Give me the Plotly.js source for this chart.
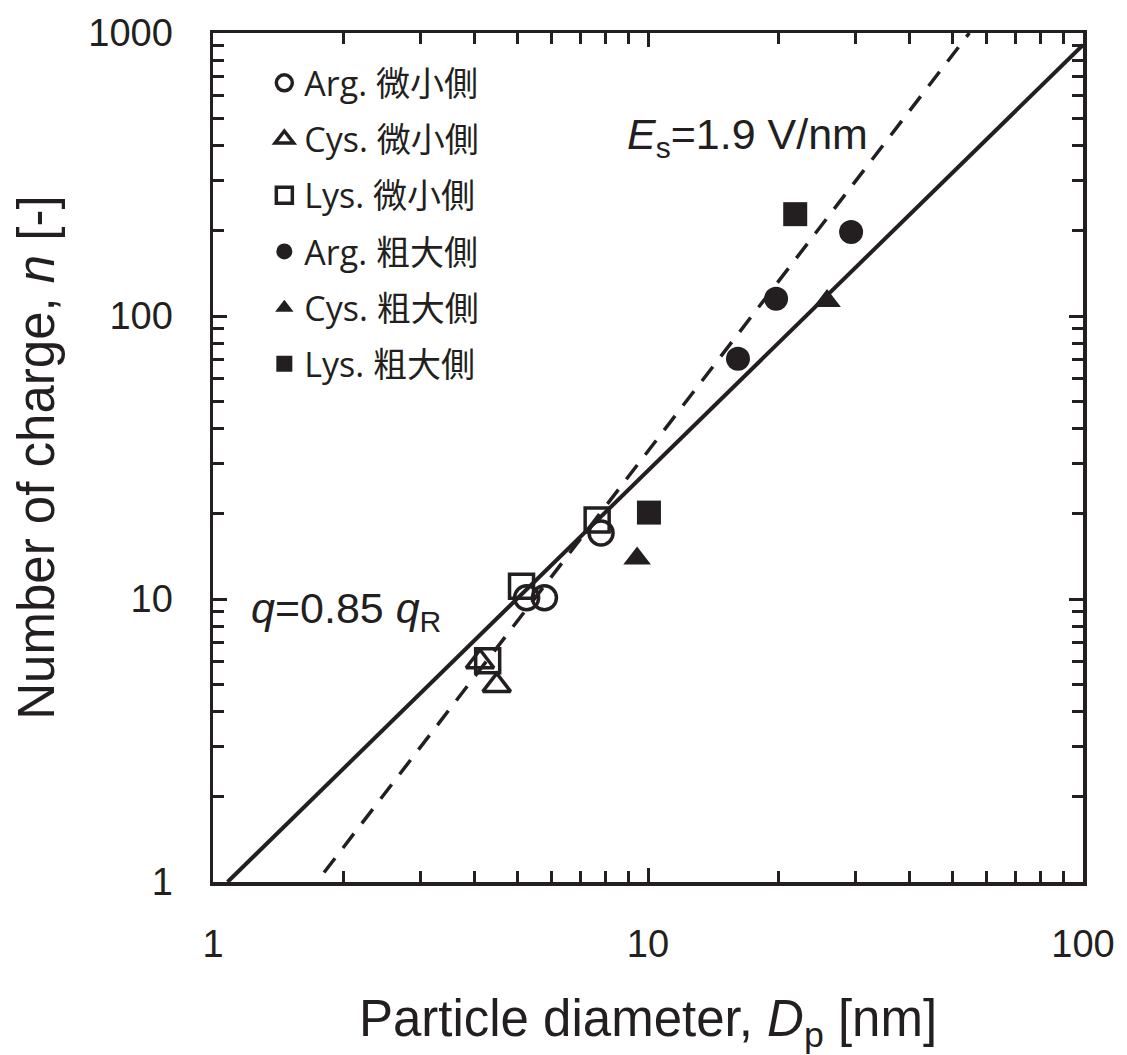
<!DOCTYPE html>
<html>
<head>
<meta charset="utf-8">
<script src="https://cdn.plot.ly/plotly-3.0.1.min.js"></script>
<style>html,body{margin:0;padding:0;background:#fff;}</style>
</head>
<body>
<div id="chart" style="width:1127px;height:1055px;"></div>
<script>
// ---- data ----
const argSmallX = [5.26, 5.78, 7.8];
const argSmallY = [10.1, 10.1, 17.1];
const cysSmallX = [4.11, 4.49];
const cysSmallY = [6.0, 4.95];
const lysSmallX = [4.28, 5.12, 7.64];
const lysSmallY = [6.05, 11.1, 19.0];
const argLargeX = [16.1, 19.7, 29.3];
const argLargeY = [70.6, 115, 198];
const cysLargeX = [9.44, 25.8];
const cysLargeY = [13.9, 113];
const lysLargeX = [10.05, 21.8];
const lysLargeY = [20.2, 229];
// reference lines (end points)
const rayleighX = [1.08, 100];
const rayleighY = [1, 907];
const fieldX = [1.8, 54.8];
const fieldY = [1.08, 1000];
// names / ticks
const seriesNames = ['Arg. 微小側', 'Cys. 微小側', 'Lys. 微小側', 'Arg. 粗大側', 'Cys. 粗大側', 'Lys. 粗大側'];
const xTickVals = [1, 10, 100];
const xTickText = ['1', '10', '100'];
const yTickVals = [1, 10, 100, 1000];
const yTickText = ['1', '10', '100', '1000'];

const INK = '#231f20';
const MS = 24;

function pts(x, y, name, symbol, group) {
  const open = symbol.indexOf('open') >= 0;
  return {
    type: 'scatter', mode: 'markers', x: x, y: y, name: name,
    legendgroup: group,
    marker: {symbol: symbol, size: MS, color: INK,
      line: {color: INK, width: open ? 3.5 : 0}},
    cliponaxis: false
  };
}

const traces = [
  pts(argSmallX, argSmallY, seriesNames[0], 'circle-open', 'g1'),
  pts(cysSmallX, cysSmallY, seriesNames[1], 'triangle-up-open', 'g2'),
  pts(lysSmallX, lysSmallY, seriesNames[2], 'square-open', 'g3'),
  pts(argLargeX, argLargeY, seriesNames[3], 'circle', 'g4'),
  pts(cysLargeX, cysLargeY, seriesNames[4], 'triangle-up', 'g5'),
  pts(lysLargeX, lysLargeY, seriesNames[5], 'square', 'g6'),
  {type: 'scatter', mode: 'lines', x: rayleighX, y: rayleighY, showlegend: false,
   line: {color: INK, width: 4}, hoverinfo: 'skip'},
  {type: 'scatter', mode: 'lines', x: fieldX, y: fieldY, showlegend: false,
   line: {color: INK, width: 3.5, dash: '18px,13px'}, hoverinfo: 'skip'}
];

const axisCommon = {
  type: 'log',
  showgrid: false, zeroline: false,
  showline: true, linecolor: INK, linewidth: 3.5,
  mirror: 'allticks',
  ticks: 'inside', ticklen: 14, tickwidth: 3, tickcolor: INK,
  tickfont: {family: 'Liberation Sans, Arial, sans-serif', size: 38, color: INK},
  minor: {ticks: 'inside', ticklen: 11, tickwidth: 3, tickcolor: INK, dtick: 'D1', showgrid: false}
};

const layout = {
  width: 1127, height: 1055,
  margin: {l: 213, r: 40, t: 31, b: 172, pad: 0},
  paper_bgcolor: '#fff', plot_bgcolor: '#fff',
  font: {family: 'Liberation Sans, Arial, sans-serif', color: INK},
  xaxis: Object.assign({}, axisCommon, {
    range: [0, 2],
    tickmode: 'array', tickvals: xTickVals, ticktext: xTickText,
    ticklabelstandoff: 26,
    title: {text: 'Particle diameter, <i>D</i><sub>p</sub> [nm]',
      font: {family: 'Liberation Sans, Arial, sans-serif', size: 51, color: INK}, standoff: 42},
    automargin: true
  }),
  yaxis: Object.assign({}, axisCommon, {
    range: [0, 3],
    tickmode: 'array', tickvals: yTickVals, ticktext: yTickText,
    ticklabelstandoff: 29,
    title: {text: 'Number of charge, <i>n</i> [-]',
      font: {family: 'Liberation Sans, Arial, sans-serif', size: 51, color: INK}, standoff: 18},
    automargin: true
  }),
  showlegend: true,
  legend: {
    x: 0.059, y: 0.975, xanchor: 'left', yanchor: 'top',
    bgcolor: 'rgba(0,0,0,0)', borderwidth: 0,
    traceorder: 'grouped', tracegroupgap: 9,
    font: {family: 'Open Sans, Noto Sans CJK JP, sans-serif', size: 34, color: INK},
    itemsizing: 'trace'
  },
  annotations: [
    {xref: 'paper', yref: 'paper', x: 0.4737, y: 0.878, xanchor: 'left', yanchor: 'middle',
     text: '<i>E</i><sub>s</sub>=1.9 V/nm', showarrow: false,
     font: {family: 'Liberation Sans, Arial, sans-serif', size: 43, color: INK}},
    {xref: 'paper', yref: 'paper', x: 0.041, y: 0.319, xanchor: 'left', yanchor: 'middle',
     text: '<i>q</i>=0.85 <i>q</i><sub>R</sub>', showarrow: false,
     font: {family: 'Liberation Sans, Arial, sans-serif', size: 43, color: INK}}
  ]
};

Plotly.newPlot('chart', traces, layout, {staticPlot: true, displayModeBar: false});
</script>
</body>
</html>
